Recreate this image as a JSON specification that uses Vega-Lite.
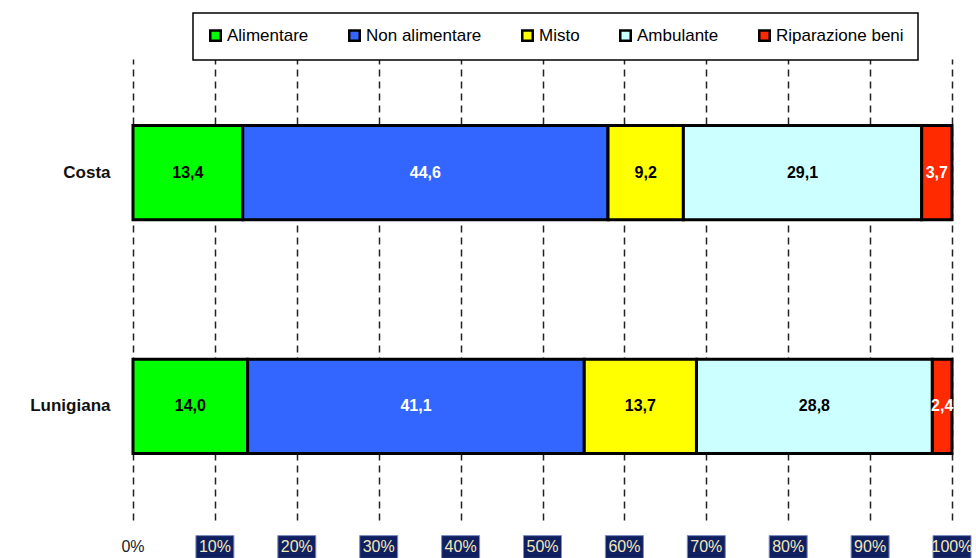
{
  "$schema": "https://vega.github.io/schema/vega-lite/v6.json",
  "padding": {"left": 29, "top": 12, "right": 5, "bottom": 0},
  "config": {
    "view": {"stroke": null},
    "font": "Liberation Sans",
    "legend": {"strokeWidth": 1.5},
    "locale": {"number": {"decimal": ",", "thousands": ".", "grouping": [3], "currency": ["", " €"]}}
  },
  "bounds": "flush",
  "spacing": 15,
  "resolve": {"scale": {"x": "independent"}, "legend": {"color": "independent"}},
  "datasets": {
    "quote": [
      {"Area": "Costa", "Categoria": "Alimentare", "Ordine": 1, "Valore": 13.4},
      {"Area": "Costa", "Categoria": "Non alimentare", "Ordine": 2, "Valore": 44.6},
      {"Area": "Costa", "Categoria": "Misto", "Ordine": 3, "Valore": 9.2},
      {"Area": "Costa", "Categoria": "Ambulante", "Ordine": 4, "Valore": 29.1},
      {"Area": "Costa", "Categoria": "Riparazione beni", "Ordine": 5, "Valore": 3.7},
      {"Area": "Lunigiana", "Categoria": "Alimentare", "Ordine": 1, "Valore": 14.0},
      {"Area": "Lunigiana", "Categoria": "Non alimentare", "Ordine": 2, "Valore": 41.1},
      {"Area": "Lunigiana", "Categoria": "Misto", "Ordine": 3, "Valore": 13.7},
      {"Area": "Lunigiana", "Categoria": "Ambulante", "Ordine": 4, "Valore": 28.8},
      {"Area": "Lunigiana", "Categoria": "Riparazione beni", "Ordine": 5, "Valore": 2.4}
    ],
    "ticks": [
      {"p": 0, "label": "0%"},
      {"p": 10, "label": "10%"},
      {"p": 20, "label": "20%"},
      {"p": 30, "label": "30%"},
      {"p": 40, "label": "40%"},
      {"p": 50, "label": "50%"},
      {"p": 60, "label": "60%"},
      {"p": 70, "label": "70%"},
      {"p": 80, "label": "80%"},
      {"p": 90, "label": "90%"},
      {"p": 100, "label": "100%"}
    ]
  },
  "vconcat": [
    {
      "width": 819,
      "height": 461,
      "data": {"name": "quote"},
      "encoding": {
        "y": {
          "field": "Area", "type": "nominal", "sort": ["Costa", "Lunigiana"],
          "scale": {"paddingInner": 0.597, "paddingOuter": 0.285},
          "axis": {"title": null, "ticks": false, "domain": false, "labelFont": "Liberation Sans", "labelFontSize": 17, "labelFontWeight": "bold", "labelColor": "#111", "labelPadding": 23}
        },
        "x": {
          "field": "Valore", "type": "quantitative", "stack": "zero",
          "scale": {"domain": [0, 100], "nice": false},
          "axis": {"title": null, "values": [0, 10, 20, 30, 40, 50, 60, 70, 80, 90, 100], "labels": false, "ticks": false, "domain": false, "grid": true, "gridDash": [7, 5], "gridColor": "#222", "gridWidth": 1.5}
        },
        "order": {"field": "Ordine", "type": "quantitative"}
      },
      "layer": [
        {
          "mark": {"type": "bar", "stroke": "black", "strokeWidth": 3},
          "encoding": {
            "color": {
              "field": "Categoria", "type": "nominal",
              "scale": {"domain": ["Alimentare", "Non alimentare", "Misto", "Ambulante", "Riparazione beni"], "range": ["#00FF00", "#3366FF", "#FFFF00", "#CCFFFF", "#FF2A00"]},
              "legend": {"title": null, "orient": "none", "legendX": 60, "legendY": -46, "direction": "horizontal", "columns": 5, "symbolType": "square", "symbolSize": 110, "symbolStrokeColor": "black", "symbolStrokeWidth": 2.5, "symbolOpacity": 1, "labelFontSize": 17, "labelFont": "Liberation Sans", "labelColor": "black", "columnPadding": 35, "labelOffset": 3, "padding": 14, "strokeColor": "black", "fillColor": "white"}
            }
          }
        },
        {
          "mark": {"type": "text", "fontWeight": "bold", "fontSize": 16, "font": "Liberation Sans"},
          "encoding": {
            "x": {"field": "Valore", "type": "quantitative", "stack": "zero", "bandPosition": 0.5},
            "detail": {"field": "Categoria", "type": "nominal"},
            "text": {"field": "Valore", "type": "quantitative", "format": ".1f"},
            "color": {"condition": {"test": "datum.Categoria === 'Non alimentare' || datum.Categoria === 'Riparazione beni'", "value": "white"}, "value": "black"}
          }
        }
      ]
    },
    {
      "width": 819,
      "height": 24,
      "data": {"name": "ticks"},
      "encoding": {
        "x": {"field": "p", "type": "quantitative", "scale": {"domain": [0, 100], "nice": false}, "axis": null}
      },
      "layer": [
        {
          "transform": [{"filter": "datum.p > 0"}],
          "mark": {"type": "point", "shape": "M-1,-0.6L1,-0.6L1,0.6L-1,0.6Z", "filled": true, "size": 1444, "fill": "#0f1f5f", "stroke": "#7d8fc4", "strokeWidth": 1, "opacity": 1}
        },
        {
          "mark": {"type": "text", "fontSize": 16, "font": "Liberation Sans"},
          "encoding": {
            "text": {"field": "label", "type": "nominal"},
            "color": {"condition": {"test": "datum.p === 0", "value": "#222"}, "value": "#f2e9b8"}
          }
        }
      ]
    }
  ]
}
